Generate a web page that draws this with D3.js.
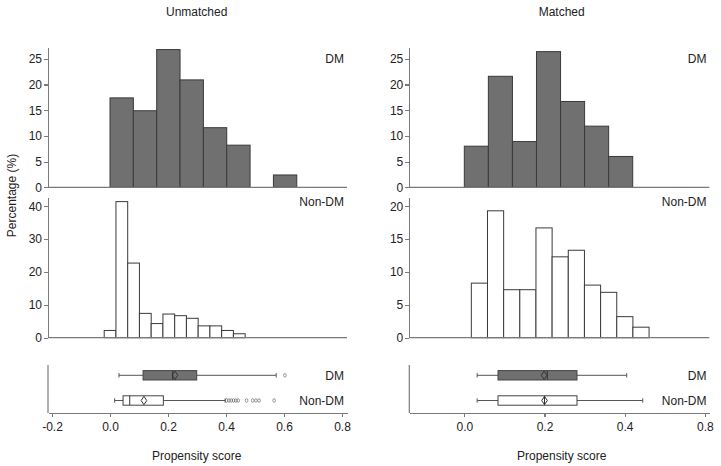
<!DOCTYPE html>
<html lang="en">
<head>
<meta charset="utf-8">
<title>Propensity score</title>
<script src="https://cdn.jsdelivr.net/npm/d3@7"></script>
<style>
body { margin: 0; background: #fff; }
text { font-family: "Liberation Sans", Arial, sans-serif; fill: #222; }
.axis path, .axis line { stroke: #7a7a7a; stroke-width: 1.2px; shape-rendering: crispEdges; }
.axis text { font-size: 12px; fill: #222; }
</style>
</head>
<body>
<script>
var w = 721, h = 466;

// histogram bins: first left edge, bin width, heights (%)
var unDM = { start: 0, width: 0.0805, pct: [17.4, 14.9, 26.8, 20.9, 11.6, 8.2, 0, 2.4] };
var unNon = { start: -0.02, width: 0.0405, pct: [2.2, 41.4, 22.7, 7.4, 4.3, 7.2, 6.7, 5.9, 3.6, 3.6, 2.2, 1.2] };
var maDM = { start: 0, width: 0.06, pct: [8.0, 21.6, 8.9, 26.4, 16.7, 11.9, 6.0] };
var maNon = { start: 0.0175, width: 0.0403, pct: [8.3, 19.3, 7.3, 7.3, 16.7, 12.3, 13.3, 8.0, 6.9, 3.2, 1.6] };

// box plots: low whisker, q1, median, mean, q3, high whisker, outliers
var unBoxDM = { lo: 0.031, q1: 0.114, med: 0.216, mean: 0.224, q3: 0.299, hi: 0.573, out: [0.603] };
var unBoxNon = { lo: 0.016, q1: 0.045, med: 0.068, mean: 0.117, q3: 0.184, hi: 0.397,
                 out: [0.402, 0.41, 0.418, 0.426, 0.434, 0.442, 0.471, 0.492, 0.503, 0.514, 0.566] };
var maBoxDM = { lo: 0.032, q1: 0.084, med: 0.207, mean: 0.199, q3: 0.281, hi: 0.405, out: [] };
var maBoxNon = { lo: 0.032, q1: 0.084, med: 0.2, mean: 0.2, q3: 0.281, hi: 0.445, out: [] };

var groups = ["DM", "Non-DM"];
var topTicks = [0, 5, 10, 15, 20, 25];
var unMidTicks = [0, 10, 20, 30, 40];
var maMidTicks = [0, 5, 10, 15, 20];
var unXTicks = [-0.2, 0, 0.2, 0.4, 0.6, 0.8];
var unXLabels = ["-0.2", "0.0", "0.2", "0.4", "0.6", "0.8"];
var maXTicks = [0, 0.2, 0.4, 0.6];
var maXLabels = ["0.0", "0.2", "0.4", "0.8"];

var svg = d3.select("body").append("svg").attr("width", w).attr("height", h);

var dmFill = "#707070", barStroke = "#3a3a3a";

function panel(opt) {
  var x = d3.scaleLinear().domain(opt.xDomain).range(opt.xRange);
  var yTop = d3.scaleLinear().domain([0, 27.3]).range([187.3, 47]);
  var yMid = d3.scaleLinear().domain([0, opt.midMax]).range([337.7, 197]);

  svg.append("text").attr("x", opt.center).attr("y", 16)
     .attr("text-anchor", "middle").attr("font-size", "12px").text(opt.title);

  function hist(bins, y, fill, ticks, label, labelY) {
    svg.append("g").selectAll("rect")
       .data(bins.pct)
       .enter()
       .append("rect")
       .attr("x", function(d, i) { return x(bins.start + i * bins.width); })
       .attr("width", function(d, i) { return x(bins.start + (i + 1) * bins.width) - x(bins.start + i * bins.width); })
       .attr("y", function(d) { return y(d); })
       .attr("height", function(d) { return y(0) - y(d); })
       .attr("fill", fill)
       .attr("stroke", barStroke)
       .attr("stroke-width", 1)
       .style("display", function(d) { return d > 0 ? null : "none"; });

    svg.append("g").attr("class", "axis")
       .attr("transform", "translate(" + opt.xRange[0] + ",0)")
       .call(d3.axisLeft(y).tickValues(ticks).tickSize(4).tickSizeOuter(0).tickPadding(2));
    svg.append("line").attr("x1", opt.xRange[0]).attr("x2", opt.xRange[1])
       .attr("y1", y(0)).attr("y2", y(0))
       .attr("stroke", "#7a7a7a").attr("stroke-width", 1.2);

    svg.append("text").attr("x", opt.labelX).attr("y", labelY)
       .attr("text-anchor", "end").attr("font-size", "12px").text(label);
  }

  hist(opt.dm, yTop, dmFill, topTicks, groups[0], 62.5);
  hist(opt.non, yMid, "#fff", opt.midTicks, groups[1], 206);

  // box plot strip
  var yb = d3.scalePoint().domain(groups).range([375.3, 400.5]);
  var bh = 9.4;
  var boxes = [opt.boxDM, opt.boxNon];
  var bg = svg.append("g").selectAll("g")
     .data(boxes)
     .enter()
     .append("g")
     .attr("transform", function(d, i) { return "translate(0," + yb(groups[i]) + ")"; });

  bg.append("line").attr("x1", function(d) { return x(d.lo); }).attr("x2", function(d) { return x(d.q1); })
    .attr("stroke", "#555");
  bg.append("line").attr("x1", function(d) { return x(d.q3); }).attr("x2", function(d) { return x(d.hi); })
    .attr("stroke", "#555");
  bg.append("line").attr("x1", function(d) { return x(d.lo); }).attr("x2", function(d) { return x(d.lo); })
    .attr("y1", -2.2).attr("y2", 2.2).attr("stroke", "#555");
  bg.append("line").attr("x1", function(d) { return x(d.hi); }).attr("x2", function(d) { return x(d.hi); })
    .attr("y1", -2.2).attr("y2", 2.2).attr("stroke", "#555");
  bg.append("rect")
    .attr("x", function(d) { return x(d.q1); })
    .attr("width", function(d) { return x(d.q3) - x(d.q1); })
    .attr("y", -bh / 2).attr("height", bh)
    .attr("fill", function(d, i) { return i === 0 ? dmFill : "#fff"; })
    .attr("stroke", "#444");
  bg.append("line").attr("x1", function(d) { return x(d.med); }).attr("x2", function(d) { return x(d.med); })
    .attr("y1", -bh / 2).attr("y2", bh / 2).attr("stroke", "#333");
  bg.append("path")
    .attr("d", function(d) {
      var cx = x(d.mean);
      return "M" + cx + "," + (-bh / 2 + 0.5) + "L" + (cx + 2.8) + ",0L" + cx + "," + (bh / 2 - 0.5) + "L" + (cx - 2.8) + ",0Z";
    })
    .attr("fill", "none").attr("stroke", "#333").attr("stroke-width", 1);
  bg.each(function(d) {
    d3.select(this).selectAll("ellipse")
      .data(d.out)
      .enter()
      .append("ellipse")
      .attr("cx", function(v) { return x(v); })
      .attr("rx", 1.3).attr("ry", 1.8)
      .attr("fill", "none").attr("stroke", "#555").attr("stroke-width", 0.6);
  });

  svg.append("g").selectAll("text")
     .data(groups)
     .enter()
     .append("text")
     .attr("x", opt.labelX)
     .attr("y", function(d) { return yb(d) + 4.3; })
     .attr("text-anchor", "end").attr("font-size", "12px")
     .text(function(d) { return d; });

  svg.append("line").attr("x1", opt.xRange[0]).attr("x2", opt.xRange[0])
     .attr("y1", 365).attr("y2", 413)
     .attr("stroke", "#7a7a7a").attr("stroke-width", 1.2);

  svg.append("g").attr("class", "axis")
     .attr("transform", "translate(0,413)")
     .call(d3.axisBottom(x).tickValues(opt.xTicks).tickSize(4).tickSizeOuter(0).tickPadding(5)
       .tickFormat(function(d, i) { return opt.xLabels[i]; }));

  svg.append("text").attr("x", opt.center).attr("y", 460)
     .attr("text-anchor", "middle").attr("font-size", "12px").text("Propensity score");
}

panel({
  title: "Unmatched", center: 196.7,
  xDomain: [-0.2138, 0.8172], xRange: [48, 347], labelX: 344,
  midMax: 42.8, midTicks: unMidTicks,
  dm: unDM, non: unNon, boxDM: unBoxDM, boxNon: unBoxNon,
  xTicks: unXTicks, xLabels: unXLabels
});

panel({
  title: "Matched", center: 561.7,
  xDomain: [-0.1372, 0.6110], xRange: [409.3, 709.3], labelX: 706.5,
  midMax: 21.4, midTicks: maMidTicks,
  dm: maDM, non: maNon, boxDM: maBoxDM, boxNon: maBoxNon,
  xTicks: maXTicks, xLabels: maXLabels
});

svg.append("text")
   .attr("transform", "translate(16,195.5) rotate(-90)")
   .attr("text-anchor", "middle").attr("font-size", "12px")
   .text("Percentage (%)");
</script>
</body>
</html>
